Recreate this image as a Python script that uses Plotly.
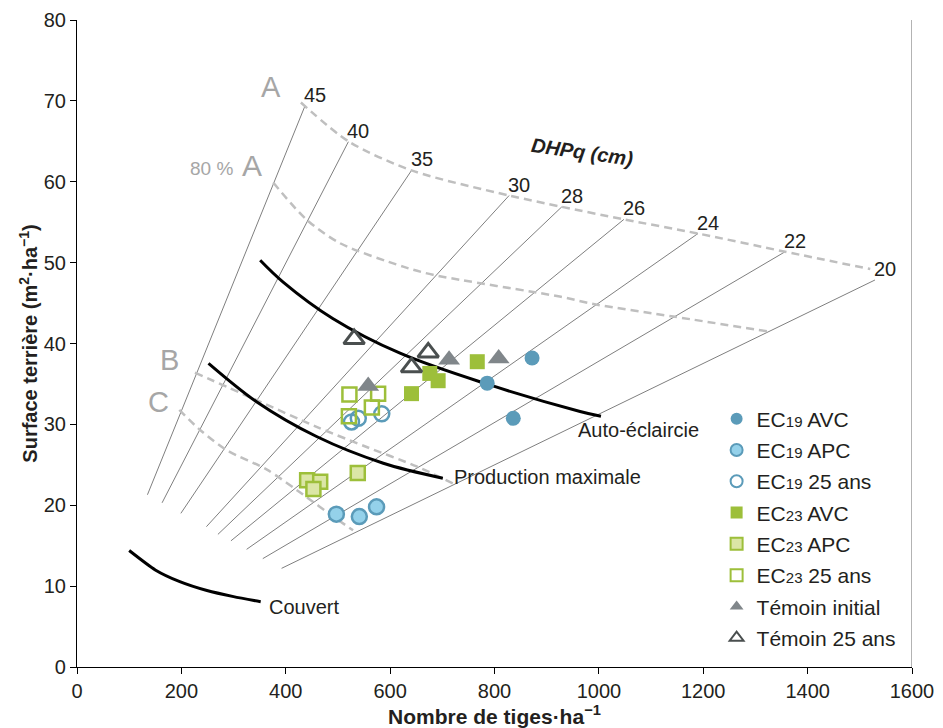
import plotly.graph_objects as go

# ---------------- data ----------------
# Diameter (DHPq) guide lines: lower and upper ends
dhp_labels = ["45", "40", "35", "30", "28", "26", "24", "22", "20"]
dhp_n_low = [135, 163, 199, 248, 270, 295, 325, 356, 392]
dhp_g_low = [21.3, 20.3, 19.0, 17.35, 16.4, 15.6, 14.55, 13.4, 12.2]
dhp_n_high = [437, 520, 641, 828, 929, 1048, 1190, 1357, 1529]
dhp_g_high = [69.4, 64.95, 61.4, 58.3, 56.9, 55.35, 53.6, 51.35, 47.85]

# Stocking curves (dashed)
a_n = [429, 520, 641, 828, 929, 1048, 1190, 1357, 1520]
a_g = [69.8, 65.0, 61.4, 58.3, 56.9, 55.35, 53.6, 51.35, 49.2]
a80_n = [376, 440, 504, 625, 682, 925, 992, 1146, 1324]
a80_g = [59.9, 55.3, 52.4, 49.5, 48.5, 45.8, 44.85, 43.3, 41.5]
b_n = [226, 344, 459, 555, 651, 720]
b_g = [36.4, 33.0, 29.7, 27.2, 24.8, 22.7]
c_n = [196, 236, 287, 364, 440, 491, 529]
c_g = [31.8, 29.3, 26.8, 24.4, 21.0, 18.6, 16.9]

# Black reference curves
ae_n = [351, 395, 490, 619, 785, 964, 1004]
ae_g = [50.3, 47.6, 43.1, 38.8, 35.0, 31.6, 31.0]
pm_n = [252, 344, 459, 587, 701]
pm_g = [37.55, 32.8, 28.5, 25.2, 23.35]
cv_n = [100, 150, 197, 249, 300, 352]
cv_g = [14.4, 12.0, 10.55, 9.45, 8.7, 8.07]

# Plot measurements
ec19_avc_n = [872, 786, 836]
ec19_avc_g = [38.2, 35.1, 30.75]
ec19_apc_n = [497, 541, 574]
ec19_apc_g = [18.9, 18.6, 19.8]
ec19_25_n = [526, 539, 584]
ec19_25_g = [30.3, 30.75, 31.3]
ec23_avc_n = [641, 676, 692, 767]
ec23_avc_g = [33.8, 36.3, 35.4, 37.75]
ec23_apc_n = [441, 466, 453, 538]
ec23_apc_g = [23.1, 22.9, 22.0, 24.0]
ec23_25_n = [522, 577, 565, 521]
ec23_25_g = [33.7, 33.8, 32.1, 31.0]
tem_init_n = [558, 713, 808]
tem_init_g = [34.75, 38.0, 38.15]
tem_25_n = [531, 673, 641]
tem_25_g = [40.55, 38.9, 37.05]

x_ticks = [0, 200, 400, 600, 800, 1000, 1200, 1400, 1600]
y_ticks = [0, 10, 20, 30, 40, 50, 60, 70, 80]

# ---------------- styles ----------------
FONT = "Liberation Sans, Arial, sans-serif"
TXT = "#231f20"
BLUE = "#5b9bb9"
LBLUE = "#94d1ea"
GREEN = "#9dbf3a"
LGREEN = "#dbe6a6"
GRAY = "#80868a"
DGRAY = "#4a4f4f"
DASH = "#bfbfbf"
LABG = "#a6a6a6"

fig = go.Figure()

# diameter lines
lx, ly = [], []
for n0, g0, n1, g1 in zip(dhp_n_low, dhp_g_low, dhp_n_high, dhp_g_high):
    lx += [n0, n1, None]
    ly += [g0, g1, None]
fig.add_trace(go.Scatter(x=lx, y=ly, mode="lines", line=dict(color="#7f7f7f", width=1),
                         showlegend=False, hoverinfo="skip"))

# dashed stocking curves
for xs, ys in [(a_n, a_g), (a80_n, a80_g), (b_n, b_g), (c_n, c_g)]:
    fig.add_trace(go.Scatter(x=xs, y=ys, mode="lines",
                             line=dict(color=DASH, width=2.5, dash="8px,5px", shape="spline", smoothing=0.8),
                             showlegend=False, hoverinfo="skip"))

# black curves
for xs, ys, sm in [(ae_n, ae_g, 1.0), (pm_n, pm_g, 0.9), (cv_n, cv_g, 0.6)]:
    fig.add_trace(go.Scatter(x=xs, y=ys, mode="lines",
                             line=dict(color="black", width=3, shape="spline", smoothing=sm),
                             showlegend=False, hoverinfo="skip"))

def sub(s):
    return "EC<span style='font-size:15px'>%s</span>" % s

series = [
    (sub("19") + " AVC", ec19_avc_n, ec19_avc_g, dict(symbol="circle", size=15, color=BLUE, line=dict(width=0, color=BLUE))),
    (sub("19") + " APC", ec19_apc_n, ec19_apc_g, dict(symbol="circle", size=15, color=LBLUE, line=dict(width=2.5, color=BLUE))),
    (sub("19") + " 25 ans", ec19_25_n, ec19_25_g, dict(symbol="circle-open", size=15, color=BLUE, line=dict(width=2.5, color=BLUE))),
    (sub("23") + " AVC", ec23_avc_n, ec23_avc_g, dict(symbol="square", size=15, color=GREEN, line=dict(width=0, color=GREEN))),
    (sub("23") + " APC", ec23_apc_n, ec23_apc_g, dict(symbol="square", size=14, color=LGREEN, line=dict(width=2.5, color=GREEN))),
    (sub("23") + " 25 ans", ec23_25_n, ec23_25_g, dict(symbol="square-open", size=14, color=GREEN, line=dict(width=2.5, color=GREEN))),
    ("Témoin initial", tem_init_n, tem_init_g, dict(symbol="triangle-up", size=19, color=GRAY, line=dict(width=0, color=GRAY))),
    ("Témoin 25 ans", tem_25_n, tem_25_g, dict(symbol="triangle-up-open", size=18, color=DGRAY, line=dict(width=3, color=DGRAY))),
]
for i, (name, xs, ys, mk) in enumerate(series):
    fig.add_trace(go.Scatter(x=xs, y=ys, mode="markers", name=name, marker=mk,
                             legendgroup="g%d" % i))

# right border
fig.add_shape(type="line", xref="x", yref="y", x0=1600, x1=1600, y0=0, y1=80,
              line=dict(color="#9a9a9a", width=1.5))

ann = []
# diameter labels at the upper ends of the lines
for lab, n1, g1 in zip(dhp_labels, dhp_n_high, dhp_g_high):
    ann.append(dict(x=n1, y=g1, text=lab, showarrow=False, xanchor="left", yanchor="bottom",
                    xshift=-3, yshift=-2, font=dict(size=20, color=TXT)))
# curve labels at the curve ends
ann.append(dict(x=ae_n[-1], y=ae_g[-1], text="Auto-éclaircie", showarrow=False, xanchor="left",
                yanchor="middle", xshift=-25, yshift=-14, font=dict(size=20, color=TXT)))
ann.append(dict(x=pm_n[-1], y=pm_g[-1], text="Production maximale", showarrow=False, xanchor="left",
                yanchor="middle", xshift=9, yshift=1, font=dict(size=20, color=TXT)))
ann.append(dict(x=cv_n[-1], y=cv_g[-1], text="Couvert", showarrow=False, xanchor="left",
                yanchor="middle", xshift=6, yshift=-5, font=dict(size=20, color=TXT)))
# gray curve names
ann += [
    dict(x=370.8, y=71.7, text="A", showarrow=False, font=dict(size=29, color=LABG)),
    dict(x=257.7, y=61.7, text="80 %", showarrow=False, font=dict(size=19, color=LABG)),
    dict(x=335.3, y=62.0, text="A", showarrow=False, font=dict(size=30, color=LABG)),
    dict(x=176.3, y=38.0, text="B", showarrow=False, font=dict(size=29, color=LABG)),
    dict(x=157.1, y=32.8, text="C", showarrow=False, font=dict(size=29, color=LABG)),
    dict(x=969.5, y=63.7, text="<b><i>DHPq (cm)</i></b>", showarrow=False, textangle=8,
         font=dict(size=20, color=TXT)),
]

fig.update_layout(
    template="none",
    width=943, height=728,
    margin=dict(l=77, r=31, t=20, b=61),
    plot_bgcolor="white", paper_bgcolor="white",
    font=dict(family=FONT, size=20, color=TXT),
    annotations=ann,
    legend=dict(x=0.766, y=0.415, xanchor="left", yanchor="top", bgcolor="rgba(0,0,0,0)",
                font=dict(size=21, color=TXT), traceorder="grouped", tracegroupgap=1,
                itemsizing="constant"),
    xaxis=dict(range=[0, 1600], tickvals=x_ticks, showline=True, linecolor="black", linewidth=1.2,
               ticks="outside", ticklen=6, tickcolor="black", showgrid=False, zeroline=False,
               automargin=False, tickfont=dict(size=20),
               title=dict(text="<b>Nombre de tiges·ha<sup>−1</sup></b>", font=dict(size=21), standoff=4)),
    yaxis=dict(range=[0, 80], tickvals=y_ticks, showline=True, linecolor="black", linewidth=1.2,
               ticks="outside", ticklen=6, tickcolor="black", showgrid=False, zeroline=False,
               automargin=False, tickfont=dict(size=20),
               title=dict(text="<b>Surface terrière (m<sup>2</sup>·ha<sup>−1</sup>)</b>", font=dict(size=20), standoff=0)),
)

fig.write_html("out.html")
